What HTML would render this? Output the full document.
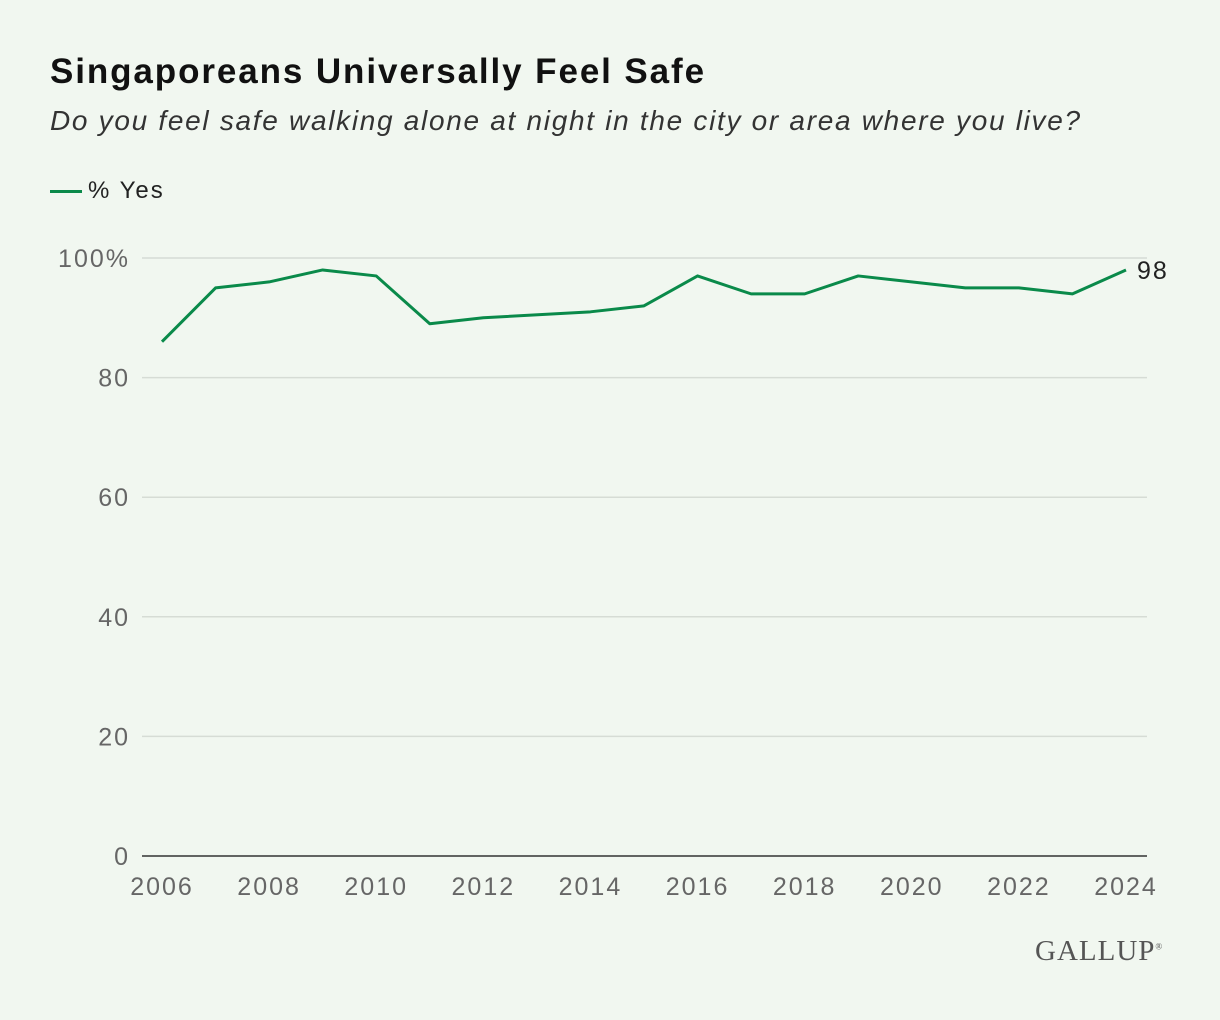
<!DOCTYPE html>
<html><head><meta charset="utf-8"><style>
body{margin:0;background:#f1f7f0;font-family:"Liberation Sans",sans-serif;}
#wrap{position:relative;width:1220px;height:1020px;background:#f1f7f0;}
h1{position:absolute;left:50px;top:52px;margin:0;font-size:35px;letter-spacing:1.9px;font-weight:bold;color:#111;}
.sub{position:absolute;left:50px;top:105px;font-size:28px;letter-spacing:1.7px;font-style:italic;color:#333;}
.leg{position:absolute;left:50px;top:177px;font-size:24px;letter-spacing:2px;color:#222;}
.leg span.sw{display:inline-block;width:32px;height:3px;background:#0a8a4a;vertical-align:middle;margin-right:6px;}
.logo{position:absolute;left:1035px;top:935px;font-family:"Liberation Serif",serif;font-size:29px;color:#555;letter-spacing:1px;}
svg{position:absolute;left:0;top:0;}
</style></head><body>
<div id="wrap">
<h1>Singaporeans Universally Feel Safe</h1>
<div class="sub">Do you feel safe walking alone at night in the city or area where you live?</div>
<div class="leg"><span class="sw"></span>% Yes</div>
<svg id="svg" width="1220" height="1020"></svg>
<div class="logo">GALLUP<sup style="font-size:9px">®</sup></div>
</div>
<script>
const years=[2006,2007,2008,2009,2010,2011,2012,2014,2015,2016,2017,2018,2019,2021,2022,2023,2024];
const values=[86,95,96,98,97,89,90,91,92,97,94,94,97,95,95,94,98];
const yTicks=[0,20,40,60,80,100];
const xTicks=[2006,2008,2010,2012,2014,2016,2018,2020,2022,2024];
const NS="http://www.w3.org/2000/svg";
const svg=document.getElementById('svg');
const xS=y=>162+(y-2006)*(1126-162)/18;
const yS=v=>856-v*5.98;
function mk(t,a,p){const e=document.createElementNS(NS,t);for(const k in a)e.setAttribute(k,a[k]);(p||svg).appendChild(e);return e;}
yTicks.forEach(v=>{
  if(v>0){const g=mk('line',{x1:142,x2:1147,y1:yS(v),y2:yS(v),stroke:'#d6dcd5','stroke-width':1.5});
  
  }
  const t=mk('text',{x:130,y:yS(v)+9,'text-anchor':'end','font-size':25,'letter-spacing':2,fill:'#666','font-family':'Liberation Sans'});
  t.textContent=v===100?'100%':v;
  
  
});
const ax=mk('line',{x1:142,x2:1147,y1:856,y2:856,stroke:'#333','stroke-width':1.5});


xTicks.forEach(y=>{
  const t=mk('text',{x:xS(y),y:895,'text-anchor':'middle','font-size':25,'letter-spacing':2,fill:'#666','font-family':'Liberation Sans'});
  t.textContent=y;
  
  
});
const pts=years.map((y,i)=>xS(y)+','+yS(values[i])).join(' ');
const pl=mk('polyline',{points:pts,fill:'none',stroke:'#0a8a4a','stroke-width':3,'stroke-linejoin':'round'});


const n=years.length-1;
const lb=mk('text',{x:xS(years[n])+11,y:yS(values[n])+9,'font-size':25,'letter-spacing':2,fill:'#222','font-family':'Liberation Sans'});
lb.textContent=values[n];


</script>
</body></html>
